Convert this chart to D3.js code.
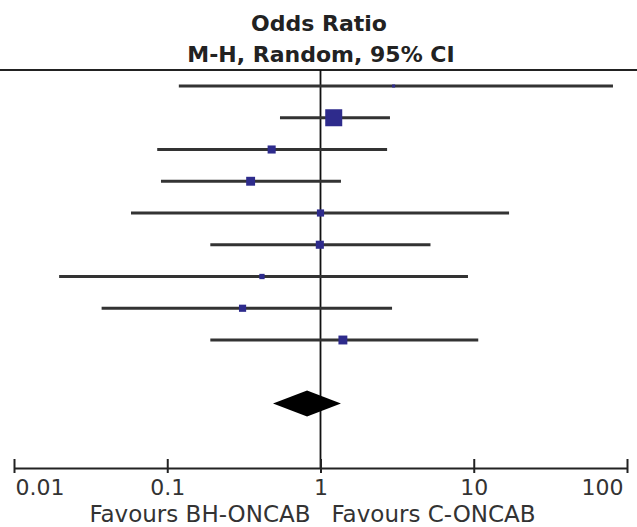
<!DOCTYPE html>
<html>
<head>
<meta charset="utf-8">
<script src="https://cdn.jsdelivr.net/npm/d3@7"></script>
<style>
  body { margin: 0; background: #fff; }
  svg { display: block; }
</style>
</head>
<body>
<div id="chart"></div>
<script>
"use strict"

const width = 637,
  height = 527;

// study rows (names are not shown in the crop)
const studies = ["Study 1", "Study 2", "Study 3", "Study 4", "Study 5", "Study 6", "Study 7", "Study 8", "Study 9"];
const oddsRatio = [3.0, 1.22, 0.48, 0.35, 1.0, 0.99, 0.415, 0.31, 1.40];
const ciLow = [0.119, 0.544, 0.086, 0.091, 0.058, 0.191, 0.0197, 0.0373, 0.191];
const ciHigh = [81, 2.84, 2.72, 1.36, 17.0, 5.22, 9.17, 2.93, 10.7];
const weights = [1.0, 31.0, 7.0, 8.5, 5.5, 7.0, 3.0, 5.5, 8.5];

// pooled estimate
const pooled = { or: 0.817, lo: 0.49, hi: 1.36 };

const tickValues = [0.01, 0.1, 1, 10, 100];
const tickLabels = ["0.01", "0.1", "1", "10", "100"];

const rows = studies.map((s, i) => ({
  name: s, or: oddsRatio[i], lo: ciLow[i], hi: ciHigh[i], w: weights[i]
}));

const svg = d3.select("#chart")
  .append("svg")
  .attr("width", width)
  .attr("height", height);

const x = d3.scaleLog()
  .domain([0.01, 100])
  .range([14, 627]);

// 9 studies, one blank row, then the total
const y = d3.scalePoint()
  .domain(studies.concat(["blank", "Total"]))
  .range([86, 403.5]);

const size = d3.scaleSqrt()
  .domain([0, d3.max(weights)])
  .range([0, 17]);

const axisY = 468;

// header
svg.append("text")
  .attr("x", 319)
  .attr("y", 31)
  .attr("text-anchor", "middle")
  .style("font", "bold 22px 'DejaVu Sans'")
  .style("fill", "#222")
  .text("Odds Ratio");

svg.append("text")
  .attr("x", 321)
  .attr("y", 62)
  .attr("text-anchor", "middle")
  .style("font", "bold 22px 'DejaVu Sans'")
  .style("fill", "#222")
  .text("M-H, Random, 95% CI");

svg.append("line")
  .attr("x1", 0).attr("x2", width)
  .attr("y1", 70).attr("y2", 70)
  .attr("stroke", "#222")
  .attr("stroke-width", 2);

// line of no effect
svg.append("line")
  .attr("x1", x(1)).attr("x2", x(1))
  .attr("y1", 70).attr("y2", axisY)
  .attr("stroke", "#111")
  .attr("stroke-width", 1.8);

// confidence intervals
svg.append("g")
  .selectAll("line")
  .data(rows)
  .join("line")
    .attr("x1", d => x(d.lo))
    .attr("x2", d => x(d.hi))
    .attr("y1", d => y(d.name))
    .attr("y2", d => y(d.name))
    .attr("stroke", "#333")
    .attr("stroke-width", 2.8);

// study weights as squares
svg.append("g")
  .selectAll("rect")
  .data(rows)
  .join("rect")
    .attr("x", d => x(d.or) - size(d.w) / 2)
    .attr("y", d => y(d.name) - size(d.w) / 2)
    .attr("width", d => size(d.w))
    .attr("height", d => size(d.w))
    .attr("fill", "#2e2b8c");

// pooled diamond
const yt = y("Total");
svg.append("path")
  .attr("d", `M${x(pooled.lo)},${yt} L${x(pooled.or)},${yt - 13} L${x(pooled.hi)},${yt} L${x(pooled.or)},${yt + 13} Z`)
  .attr("fill", "#000");

// axis
const axis = d3.axisBottom(x)
  .tickValues(tickValues)
  .tickFormat((d, i) => tickLabels[i])
  .tickSize(0);

const gAxis = svg.append("g")
  .attr("transform", `translate(0,${axisY})`)
  .call(axis);

gAxis.select(".domain")
  .attr("stroke", "#222")
  .attr("stroke-width", 2.2);

gAxis.selectAll(".tick line")
  .attr("y1", -9)
  .attr("y2", 5)
  .attr("stroke", "#222")
  .attr("stroke-width", 2);

gAxis.selectAll(".tick text")
  .attr("y", 27)
  .attr("dy", null)
  .style("font", "22px 'DejaVu Sans'")
  .style("fill", "#333")
  .attr("text-anchor", (d, i) => i === 0 ? "start" : i === tickValues.length - 1 ? "end" : "middle")
  .attr("dx", (d, i) => i === 0 ? 1 : i === tickValues.length - 1 ? -4 : 0);

// favours labels
svg.append("text")
  .attr("x", x(1) - 10)
  .attr("y", 522)
  .attr("text-anchor", "end")
  .style("font", "23px 'DejaVu Sans'")
  .style("fill", "#333")
  .text("Favours BH-ONCAB");

svg.append("text")
  .attr("x", x(1) + 11)
  .attr("y", 522)
  .attr("text-anchor", "start")
  .style("font", "23px 'DejaVu Sans'")
  .style("fill", "#333")
  .text("Favours C-ONCAB");
</script>
</body>
</html>
